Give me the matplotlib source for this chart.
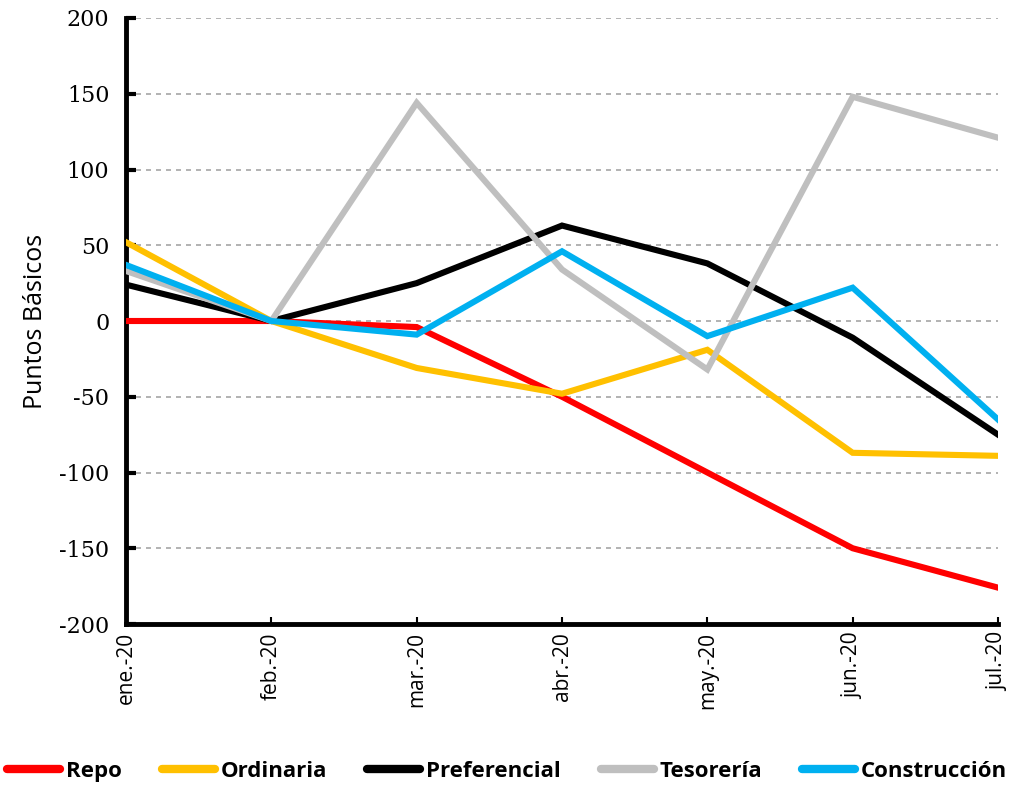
import matplotlib
matplotlib.use("Agg")
import matplotlib.pyplot as plt
from matplotlib.lines import Line2D

plt.rcParams["axes.unicode_minus"] = False

meses = ["ene.-20", "feb.-20", "mar.-20", "abr.-20", "may.-20", "jun.-20", "jul.-20"]
repo = [0, 0, -4, -50, -100, -150, -176]
ordinaria = [52, 0, -31, -48, -19, -87, -89]
preferencial = [24, 0, 25, 63, 38, -11, -75]
tesoreria = [33, 0, 144, 34, -32, 148, 121]
construccion = [37, 0, -9, 46, -10, 22, -65]

series = [
    ("Repo", repo, "#ff0000"),
    ("Ordinaria", ordinaria, "#ffc000"),
    ("Preferencial", preferencial, "#000000"),
    ("Tesorería", tesoreria, "#bfbfbf"),
    ("Construcción", construccion, "#00b0f0"),
]

fig = plt.figure(figsize=(10.14, 7.86), dpi=100)
ax = fig.add_axes([0.1243, 0.2061, 0.8599, 0.771])

x = range(len(meses))
# gray drawn first so the rest sit on top
orden = [3, 0, 1, 2, 4]
for i in orden:
    nombre, vals, color = series[i]
    ax.plot(x, vals, color=color, lw=4.4, solid_joinstyle="miter", zorder=3 + i)

ax.set_xlim(0, len(meses) - 1)
ax.set_ylim(-200, 200)
ax.set_yticks(range(-200, 201, 50))
ax.yaxis.grid(True, linestyle=(0, (3, 3)), color="#a6a6a6", lw=1.2)
ax.set_axisbelow(True)

ax.set_xticks(list(x))
ax.set_xticklabels(meses, rotation=90, fontsize=15, family="Open Sans")
ax.tick_params(axis="y", direction="in", length=7, width=3, labelsize=16, pad=12)
ax.tick_params(axis="x", direction="in", length=5, width=1.5, pad=6)
for t in ax.get_yticklabels():
    t.set_family("DejaVu Serif")

for s in ["top", "right"]:
    ax.spines[s].set_visible(False)
for s in ["left", "bottom"]:
    ax.spines[s].set_linewidth(3.5)
    ax.spines[s].set_color("black")

ax.set_ylabel("Puntos Básicos", fontsize=18, family="Open Sans", labelpad=8)

handles = [Line2D([], [], color=c, lw=6, solid_capstyle="round") for _, _, c in series]
nombres = [s[0] for s in series]
fig.legend(handles, nombres, loc="lower center", ncol=5,
           bbox_to_anchor=(0.5, -0.02), frameon=False, handlelength=2.4,
           columnspacing=1.8, handletextpad=0.25,
           prop={"family": "Open Sans", "weight": "bold", "size": 16})

fig.savefig("out.png", dpi=100)
